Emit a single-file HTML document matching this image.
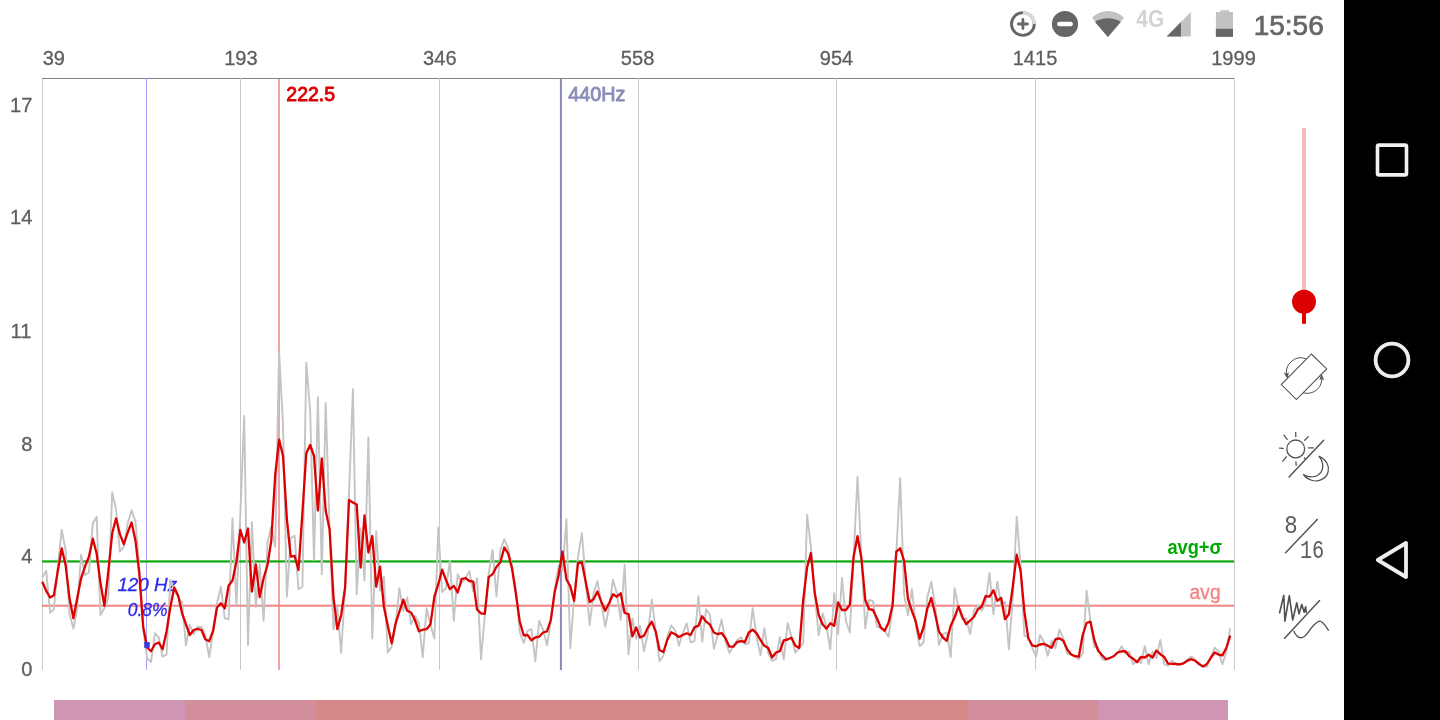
<!DOCTYPE html>
<html lang="en">
<head>
<meta charset="utf-8">
<title>Spectrum</title>
<style>
html,body{margin:0;padding:0;background:#fff;}
body{width:1440px;height:720px;overflow:hidden;position:relative;font-family:"Liberation Sans",sans-serif;}
svg{position:absolute;left:0;top:0;}
text{font-family:"Liberation Sans",sans-serif;}
.ax{font-size:20.8px;fill:#5e5e5e;stroke:#5e5e5e;stroke-width:0.3px;}
.mono{font-family:"Liberation Mono",monospace;}
</style>
</head>
<body>
<svg width="1440" height="720" viewBox="0 0 1440 720">
  <!-- nav bar -->
  <rect x="1344" y="0" width="96" height="720" fill="#000"/>
  <rect x="1377.5" y="145.1" width="29" height="29.8" rx="1.5" fill="none" stroke="#f0f0f0" stroke-width="3.6"/>
  <circle cx="1392" cy="360" r="16.4" fill="none" stroke="#eeeeee" stroke-width="3.8"/>
  <path d="M1377.8 560 L1406 543 L1406 577 Z" fill="none" stroke="#eeeeee" stroke-width="3.8" stroke-linejoin="round"/>

  <!-- status bar -->
  <g id="status">
    <circle cx="1022.9" cy="24" r="11.4" fill="none" stroke="#666" stroke-width="2.9"/>
    <path d="M1022.9 12.6 A11.4 11.4 0 0 1 1034.3 24" fill="none" stroke="#d9d9d9" stroke-width="3.1"/>
    <path d="M1018.4 24 H1027.4 M1022.9 19.5 V28.5" stroke="#666" stroke-width="2.8" stroke-linecap="round" fill="none"/>
    <circle cx="1065" cy="24" r="13.1" fill="#666"/>
    <rect x="1057.1" y="21.8" width="15.8" height="4.4" rx="2.2" fill="#fff"/>
    <path d="M1107.9 37 L1092.1 17.75 A22.4 22.4 0 0 1 1124 17.75 Z" fill="#c2c2c2"/>
    <path d="M1107.9 37 L1095 21.9 A24 24 0 0 1 1120.8 21.9 Z" fill="#666"/>
    <text x="1136.3" y="26.5" font-size="23" font-weight="bold" fill="#d3d3d3" textLength="27.9" lengthAdjust="spacingAndGlyphs">4G</text>
    <path d="M1166.7 36.5 H1190.8 V11.9 Z" fill="#c2c2c2"/>
    <path d="M1166.7 36.5 H1181 V21.9 Z" fill="#666"/>
    <path d="M1220.3 10.3 H1229 V12.1 H1233 V36.8 H1215.9 V12.1 H1220.3 Z" fill="#c2c2c2"/>
    <rect x="1215.9" y="28.8" width="17.1" height="8" fill="#666"/>
    <text x="1253.7" y="34.7" font-size="28.3" fill="#666" stroke="#666" stroke-width="0.7" textLength="70" lengthAdjust="spacingAndGlyphs">15:56</text>
  </g>

  <!-- grid -->
  <line x1="42" y1="78.5" x2="1234" y2="78.5" stroke="#838383" stroke-width="1" shape-rendering="crispEdges"/>
  <g stroke="#c9c9c9" stroke-width="1" shape-rendering="crispEdges">
    <line x1="42.5" y1="79" x2="42.5" y2="670"/>
    <line x1="240.5" y1="78" x2="240.5" y2="670"/>
    <line x1="439.5" y1="78" x2="439.5" y2="670"/>
    <line x1="638.5" y1="78" x2="638.5" y2="670"/>
    <line x1="836.5" y1="78" x2="836.5" y2="670"/>
    <line x1="1035.5" y1="78" x2="1035.5" y2="670"/>
    <line x1="1234.5" y1="78" x2="1234.5" y2="670"/>
  </g>

  <!-- axis labels -->
  <g class="ax" text-anchor="middle">
    <text transform="translate(53.8 65) scale(0.965 1)">39</text>
    <text transform="translate(240.9 65) scale(0.965 1)">193</text>
    <text transform="translate(439.8 65) scale(0.965 1)">346</text>
    <text transform="translate(637.6 65) scale(0.965 1)">558</text>
    <text transform="translate(836.5 65) scale(0.965 1)">954</text>
    <text transform="translate(1035 65) scale(0.965 1)">1415</text>
    <text transform="translate(1233.5 65) scale(0.965 1)">1999</text>
  </g>
  <g class="ax" text-anchor="end">
    <text transform="translate(32.4 111.7) scale(0.965 1)">17</text>
    <text transform="translate(32.3 224.4) scale(0.965 1)">14</text>
    <text transform="translate(31.4 337.7) scale(0.965 1)">11</text>
    <text transform="translate(32.3 450.6) scale(0.965 1)">8</text>
    <text transform="translate(32.3 562.7) scale(0.965 1)">4</text>
    <text transform="translate(32.3 676.1) scale(0.965 1)">0</text>
  </g>

  <!-- marker lines -->
  <rect x="146" y="78" width="1" height="592" fill="#a3a3fb"/>
  <rect x="278" y="79" width="2" height="591" fill="#f2a3a8"/>
  <rect x="559.9" y="79" width="2" height="591" fill="#8b8bb9"/>
  <text x="286.3" y="101.3" font-size="20.4" fill="#dd0000" stroke="#dd0000" stroke-width="0.9" stroke-linejoin="round" textLength="48.8" lengthAdjust="spacingAndGlyphs">222.5</text>
  <text x="568.2" y="100.6" font-size="20.3" fill="#8c8cb9" stroke="#8c8cb9" stroke-width="0.9" stroke-linejoin="round" textLength="57.1" lengthAdjust="spacingAndGlyphs">440Hz</text>

  <!-- avg lines -->
  <rect x="42" y="560.35" width="1192" height="2.2" fill="#0ca80c"/>
  <rect x="42" y="604.7" width="1192" height="2" fill="#f08585"/>
  <text x="1167.4" y="554" font-size="19.5" font-weight="bold" fill="#00aa00" textLength="54.6" lengthAdjust="spacingAndGlyphs">avg+σ</text>
  <text x="1189.6" y="598.8" font-size="19.5" fill="#f08585" stroke="#f08585" stroke-width="0.35" textLength="31" lengthAdjust="spacingAndGlyphs">avg</text>

  <!-- blue cursor label -->
  <text x="117.4" y="591.3" font-size="18.5" font-style="italic" fill="#2a2aee" stroke="#2a2aee" stroke-width="0.3" textLength="59.7" lengthAdjust="spacingAndGlyphs">120 Hz</text>
  <text x="127.8" y="615.6" font-size="18.5" font-style="italic" fill="#2a2aee" stroke="#2a2aee" stroke-width="0.3" textLength="39.6" lengthAdjust="spacingAndGlyphs">0.8%</text>

  <!-- curves -->
  <polyline fill="none" stroke="#c4c4c4" stroke-width="1.9" stroke-linejoin="round" points="42.3,577.5 46.2,570.8 50.1,612.8 53.9,609.2 57.8,567.0 61.7,529.7 65.6,550.0 69.5,614.0 73.4,628.5 77.2,609.0 81.1,554.7 85.0,575.0 88.9,572.5 92.8,523.3 96.6,516.7 100.5,615.0 104.4,608.0 108.3,598.3 112.2,492.5 116.1,510.0 119.9,551.7 123.8,546.7 127.7,523.3 131.6,510.3 135.5,521.7 139.3,567.0 143.2,630.0 147.1,658.3 151.0,662.0 154.9,633.3 158.8,637.5 162.6,656.7 166.5,654.7 170.4,580.0 174.3,590.0 178.2,597.0 182.1,602.5 185.9,645.3 189.8,625.0 193.7,634.2 197.6,626.7 201.5,627.0 205.3,635.0 209.2,657.0 213.1,632.0 217.0,603.3 220.9,586.7 224.8,618.3 228.6,619.2 232.5,518.5 236.4,605.0 240.3,515.0 244.2,416.0 248.0,645.0 251.9,522.3 255.8,607.0 259.7,564.2 263.6,620.8 267.5,542.5 271.3,526.5 275.2,546.7 279.1,351.7 283.0,425.0 286.9,596.7 290.7,538.3 294.6,535.8 298.5,589.2 302.4,586.7 306.3,362.5 310.2,411.7 314.0,560.0 317.9,397.2 321.8,574.2 325.7,403.0 329.6,530.0 333.5,629.2 337.3,606.7 341.2,652.8 345.1,588.0 349.0,495.0 352.9,389.2 356.7,594.2 360.6,528.3 364.5,580.3 368.4,437.5 372.3,638.5 376.2,531.2 380.0,590.8 383.9,576.7 387.8,652.5 391.7,646.7 395.6,625.0 399.4,588.3 403.3,610.8 407.2,597.5 411.1,624.2 415.0,615.8 418.9,622.5 422.7,657.2 426.6,608.3 430.5,625.0 434.4,638.5 438.3,527.5 442.1,592.0 446.0,588.3 449.9,560.8 453.8,620.8 457.7,574.2 461.6,583.3 465.4,578.3 469.3,571.3 473.2,591.0 477.1,578.3 481.0,659.2 484.8,615.8 488.7,573.3 492.6,550.0 496.5,596.3 500.4,550.0 504.3,539.2 508.1,548.3 512.0,566.0 515.9,589.0 519.8,632.5 523.7,643.0 527.5,630.8 531.4,629.2 535.3,661.3 539.2,620.8 543.1,629.7 547.0,645.3 550.8,621.7 554.7,590.0 558.6,565.4 562.5,570.8 566.4,519.2 570.3,648.3 574.1,598.3 578.0,556.7 581.9,533.3 585.8,582.0 589.7,625.0 593.5,593.3 597.4,581.2 601.3,603.0 605.2,626.7 609.1,607.5 613.0,579.7 616.8,593.3 620.7,620.0 624.6,565.0 628.5,654.2 632.4,618.3 636.2,639.0 640.1,625.8 644.0,651.3 647.9,633.0 651.8,599.5 655.7,630.0 659.5,661.3 663.4,655.8 667.3,636.7 671.2,625.5 675.1,630.0 678.9,645.8 682.8,633.0 686.7,623.3 690.6,642.5 694.5,640.8 698.4,596.2 702.2,641.7 706.1,609.2 710.0,615.0 713.9,648.7 717.8,635.0 721.6,619.5 725.5,641.7 729.4,653.0 733.3,645.8 737.2,640.0 741.1,637.5 744.9,644.2 748.8,643.3 752.7,608.3 756.6,636.7 760.5,655.3 764.4,628.3 768.2,653.0 772.1,660.8 776.0,659.2 779.9,637.2 783.8,659.5 787.6,623.3 791.5,636.7 795.4,652.8 799.3,647.5 803.2,643.3 807.1,515.0 810.9,546.7 814.8,595.0 818.7,635.3 822.6,613.3 826.5,626.7 830.3,649.5 834.2,593.3 838.1,634.2 842.0,578.0 845.9,620.8 849.8,632.5 853.6,558.0 857.5,477.0 861.4,556.0 865.3,628.3 869.2,600.0 873.0,601.2 876.9,626.7 880.8,628.0 884.7,630.8 888.6,636.7 892.5,608.0 896.3,553.0 900.2,478.3 904.1,595.0 908.0,615.3 911.9,589.2 915.8,625.0 919.6,646.2 923.5,642.5 927.4,596.7 931.3,581.7 935.2,605.8 939.0,645.0 942.9,634.2 946.8,632.5 950.7,657.0 954.6,588.3 958.5,607.5 962.3,619.2 966.2,618.3 970.1,634.2 974.0,610.0 977.9,605.8 981.7,610.8 985.6,602.5 989.5,573.0 993.4,614.2 997.3,581.7 1001.2,605.0 1005.0,601.7 1008.9,649.2 1012.8,598.0 1016.7,516.7 1020.6,565.0 1024.4,635.8 1028.3,636.7 1032.2,648.0 1036.1,656.7 1040.0,635.0 1043.9,641.7 1047.7,655.8 1051.6,640.8 1055.5,648.3 1059.4,629.7 1063.3,638.3 1067.1,653.3 1071.0,655.0 1074.9,656.7 1078.8,659.2 1082.7,653.3 1086.6,590.8 1090.4,620.0 1094.3,647.0 1098.2,647.5 1102.1,659.2 1106.0,660.0 1109.8,658.0 1113.7,656.0 1117.6,653.0 1121.5,646.3 1125.4,653.3 1129.3,651.7 1133.1,664.2 1137.0,660.8 1140.9,663.3 1144.8,646.3 1148.7,664.2 1152.6,651.7 1156.4,658.0 1160.3,640.0 1164.2,664.2 1168.1,665.8 1172.0,660.6 1175.8,664.0 1179.7,665.0 1183.6,663.0 1187.5,659.5 1191.4,656.4 1195.3,660.0 1199.1,664.0 1203.0,666.5 1206.9,666.8 1210.8,657.0 1214.7,647.6 1218.5,651.5 1222.4,664.3 1226.3,652.0 1230.2,628.3"/>
  <polyline fill="none" stroke="#dd0000" stroke-width="2.3" stroke-linejoin="round" points="42.3,581.7 46.2,590.8 50.1,597.5 53.9,595.3 57.8,570.8 61.7,548.3 65.6,565.0 69.5,598.3 73.4,618.3 77.2,598.3 81.1,578.3 85.0,566.7 88.9,556.7 92.8,538.7 96.6,553.3 100.5,583.3 104.4,605.8 108.3,571.7 112.2,533.3 116.1,518.3 119.9,534.2 123.8,544.2 127.7,532.5 131.6,522.5 135.5,540.8 139.3,573.3 143.2,626.7 147.1,647.5 151.0,651.3 154.9,644.2 158.8,642.5 162.6,649.2 166.5,631.7 170.4,606.7 174.3,587.5 178.2,595.8 182.1,613.3 185.9,624.2 189.8,635.0 193.7,630.0 197.6,628.8 201.5,630.0 205.3,639.2 209.2,641.2 213.1,630.8 217.0,607.5 220.9,603.3 224.8,608.3 228.6,585.8 232.5,580.5 236.4,562.0 240.3,530.0 244.2,542.5 248.0,528.5 251.9,591.5 255.8,564.5 259.7,597.0 263.6,578.3 267.5,565.0 271.3,540.5 275.2,475.0 279.1,439.6 283.0,455.8 286.9,519.2 290.7,556.7 294.6,555.8 298.5,570.0 302.4,513.0 306.3,453.3 310.2,445.0 314.0,456.0 317.9,510.5 321.8,458.3 325.7,510.8 329.6,529.2 333.5,597.5 337.3,629.2 341.2,615.0 345.1,587.5 349.0,500.0 352.9,502.5 356.7,504.5 360.6,567.5 364.5,515.5 368.4,552.5 372.3,536.0 376.2,586.7 380.0,566.7 383.9,606.7 387.8,625.8 391.7,643.3 395.6,623.3 399.4,611.7 403.3,599.7 407.2,610.8 411.1,612.5 415.0,620.0 418.9,631.3 422.7,629.7 426.6,629.2 430.5,624.2 434.4,596.7 438.3,584.2 442.1,569.7 446.0,580.0 449.9,589.2 453.8,585.8 457.7,592.5 461.6,579.2 465.4,578.0 469.3,581.0 473.2,581.7 477.1,609.6 481.0,613.3 484.8,613.8 488.7,577.2 492.6,574.2 496.5,566.7 500.4,562.2 504.3,547.5 508.1,553.3 512.0,568.3 515.9,594.0 519.8,621.7 523.7,635.3 527.5,635.0 531.4,640.3 535.3,637.5 539.2,636.7 543.1,632.5 547.0,631.3 550.8,620.0 554.7,592.0 558.6,575.4 562.5,551.7 566.4,579.2 570.3,586.2 574.1,600.8 578.0,563.0 581.9,562.5 585.8,582.5 589.7,602.0 593.5,599.2 597.4,591.5 601.3,601.7 605.2,610.8 609.1,603.3 613.0,594.3 616.8,596.7 620.7,593.3 624.6,613.0 628.5,614.0 632.4,636.3 636.2,627.5 640.1,637.5 644.0,635.8 647.9,627.5 651.8,621.7 655.7,631.7 659.5,650.0 663.4,652.0 667.3,640.0 671.2,632.2 675.1,634.2 678.9,637.0 682.8,635.0 686.7,633.3 690.6,635.0 694.5,627.2 698.4,625.8 702.2,616.3 706.1,621.7 710.0,624.7 713.9,632.5 717.8,634.2 721.6,633.0 725.5,638.3 729.4,646.7 733.3,646.7 737.2,642.0 741.1,641.2 744.9,642.0 748.8,632.5 752.7,629.7 756.6,633.3 760.5,640.0 764.4,645.8 768.2,648.0 772.1,657.5 776.0,652.5 779.9,651.2 783.8,640.3 787.6,639.5 791.5,637.8 795.4,645.8 799.3,648.0 803.2,600.0 807.1,567.5 810.9,553.0 814.8,593.3 818.7,615.0 822.6,624.2 826.5,628.7 830.3,623.3 834.2,625.8 838.1,602.5 842.0,610.0 845.9,610.0 849.8,605.0 853.6,556.7 857.5,536.2 861.4,558.3 865.3,600.0 869.2,609.2 873.0,610.0 876.9,618.3 880.8,627.5 884.7,630.8 888.6,622.5 892.5,605.8 896.3,551.7 900.2,548.3 904.1,560.8 908.0,599.2 911.9,610.8 915.8,621.7 919.6,638.7 923.5,627.5 927.4,608.3 931.3,598.0 935.2,614.2 939.0,631.7 942.9,637.5 946.8,640.8 950.7,625.8 954.6,617.5 958.5,606.3 962.3,616.7 966.2,624.2 970.1,620.5 974.0,616.7 977.9,609.2 981.7,606.7 985.6,596.2 989.5,596.7 993.4,590.3 997.3,600.8 1001.2,598.0 1005.0,619.2 1008.9,614.2 1012.8,586.7 1016.7,554.7 1020.6,571.0 1024.4,611.7 1028.3,638.3 1032.2,645.3 1036.1,646.3 1040.0,644.5 1043.9,643.8 1047.7,645.8 1051.6,647.8 1055.5,639.2 1059.4,638.3 1063.3,640.8 1067.1,649.2 1071.0,654.2 1074.9,656.2 1078.8,656.7 1082.7,635.0 1086.6,623.0 1090.4,621.7 1094.3,640.0 1098.2,650.8 1102.1,655.3 1106.0,659.2 1109.8,658.0 1113.7,656.3 1117.6,652.5 1121.5,651.3 1125.4,651.2 1129.3,656.3 1133.1,658.7 1137.0,662.2 1140.9,657.0 1144.8,657.5 1148.7,654.7 1152.6,657.5 1156.4,650.5 1160.3,654.2 1164.2,657.0 1168.1,663.7 1172.0,663.8 1175.8,664.0 1179.7,664.4 1183.6,663.3 1187.5,660.6 1191.4,659.2 1195.3,660.8 1199.1,664.0 1203.0,666.4 1206.9,664.0 1210.8,657.8 1214.7,652.5 1218.5,654.6 1222.4,655.4 1226.3,648.0 1230.2,635.6"/>
  <rect x="144.2" y="642" width="5.5" height="5.8" fill="#3838dd"/>

  <!-- bottom colour bar -->
  <rect x="54" y="700" width="131" height="20" fill="#cf96b4"/>
  <rect x="185" y="700" width="131" height="20" fill="#d38e9c"/>
  <rect x="316" y="700" width="652" height="20" fill="#d78888"/>
  <rect x="968" y="700" width="130" height="20" fill="#d38e9c"/>
  <rect x="1098" y="700" width="130" height="20" fill="#cf96b4"/>

  <!-- slider -->
  <rect x="1302" y="128" width="4" height="175" fill="#f6b9b9"/>
  <rect x="1302" y="300" width="4" height="23.8" fill="#dd0000"/>
  <circle cx="1304" cy="301.8" r="12" fill="#dd0000"/>

  <!-- rotate icon -->
  <g fill="none" stroke="#505050" stroke-width="1.05">
    <path d="M1311.4 354 L1326.7 368.9 L1296.4 399.6 L1281.3 384.6 Z"/>
    <path d="M1306.3 358.9 A14.4 14.4 0 0 0 1287.3 377" stroke-width="1"/>
    <path d="M1303.2 392.8 A14.6 14.6 0 0 0 1321.5 375.6" stroke-width="1"/>
    <path d="M1284.4 372.9 L1287.3 377.8 L1288.4 372.7 L1286.8 374.4 Z" fill="#505050" stroke-width="0.7" stroke-linejoin="round"/>
    <path d="M1319.9 379.6 L1321.5 374.7 L1323.6 379.9 L1321.7 378.2 Z" fill="#505050" stroke-width="0.7" stroke-linejoin="round"/>
  </g>

  <!-- day/night icon -->
  <g fill="none" stroke="#505050" stroke-width="1.3" stroke-linecap="round">
    <circle cx="1295.7" cy="448.9" r="8.9"/>
    <path d="M1295.7 432.4 L1295.8 436.5 M1283.9 435.2 L1287.2 439.3 M1279.5 448.1 L1283.3 448.3 M1282.8 461.2 L1286.4 456.8 M1295.9 461.8 L1296.2 465.4 M1304.7 440.2 L1308.3 436.6 M1308.4 447.8 L1313.3 447.8 M1304.3 457.8 L1305.1 458.9"/>
    <path d="M1289 477 L1323.7 440.3" stroke-width="1.4"/>
    <path d="M1319 456.4 C1326.5 459.5 1329.5 466 1328.2 471.5 C1326.3 479.5 1317.5 482.3 1311.5 480.3 C1307.6 479 1305 477 1303.4 474.4 C1309.5 478.3 1317.3 477.6 1321.2 471.8 C1324.3 467 1322.6 460.5 1319 456.4 Z" stroke-linejoin="round" stroke-width="1.2"/>
  </g>

  <!-- 8/16 icon -->
  <g>
    <text class="mono" transform="translate(1284.3 533.4) scale(1.15 1.32)" font-size="19.5" fill="#5c5c5c">8</text>
    <text class="mono" transform="translate(1299.95 557.9) scale(1.037 1.32)" font-size="19.5" fill="#5c5c5c">16</text>
    <path d="M1285.1 553.3 L1317.7 518.9" stroke="#505050" stroke-width="1.4" fill="none"/>
  </g>

  <!-- raw/smooth icon -->
  <g fill="none" stroke="#505050" stroke-width="1.6" stroke-linejoin="round" stroke-linecap="round">
    <path d="M1279.6 612.8 L1283.8 595.3 L1284.9 621.1 L1289.3 595.6 L1292.7 620 L1296.8 602.8 L1299 613.9 L1301.8 604.4 L1304.2 612.2 L1305.7 606.7 L1306.2 612.2"/>
    <path d="M1284.6 638.3 L1319.6 600.6" stroke-width="1.4"/>
    <path d="M1293.8 631.3 C1296 636 1299 638.3 1302 637.6 C1308 636.5 1311 624 1319.5 621.1 C1322.5 620.5 1325.5 626 1328.4 630.2" stroke-width="1.3"/>
  </g>
</svg>
</body>
</html>
